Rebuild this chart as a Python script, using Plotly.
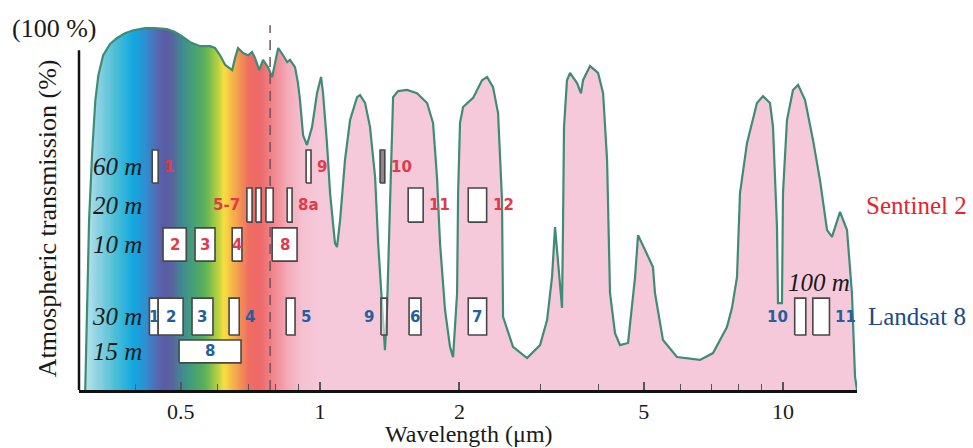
import math
import numpy as np
import plotly.graph_objects as go

# ---------------- data ----------------
# atmospheric transmission curve
wavelength = [0.311, 0.314, 0.317, 0.322, 0.327, 0.332, 0.340, 0.352, 0.364, 0.379,
              0.395, 0.419, 0.440, 0.467, 0.486, 0.503, 0.524, 0.551, 0.579, 0.593,
              0.608, 0.624, 0.646, 0.655, 0.665, 0.682, 0.699, 0.713, 0.724, 0.739,
              0.753, 0.772, 0.788, 0.800, 0.812, 0.832, 0.849, 0.861, 0.883, 0.896,
              0.905, 0.919, 0.937, 0.961, 0.985, 1.005, 1.015, 1.035, 1.051, 1.077,
              1.088, 1.105, 1.132, 1.161, 1.202, 1.220, 1.251, 1.282, 1.315, 1.335,
              1.361, 1.381, 1.395, 1.416, 1.431, 1.438, 1.474, 1.541, 1.620, 1.703,
              1.754, 1.789, 1.816, 1.862, 1.909, 1.938, 1.977, 1.987, 2.006, 2.037,
              2.141, 2.238, 2.295, 2.364, 2.424, 2.472, 2.485, 2.611, 2.800, 2.987,
              3.093, 3.170, 3.218, 3.266, 3.332, 3.348, 3.365, 3.415, 3.467, 3.590,
              3.662, 3.699, 3.830, 3.986, 4.087, 4.169, 4.230, 4.337, 4.446, 4.627,
              4.791, 4.863, 5.084, 5.238, 5.290, 5.423, 5.505, 5.903, 6.618, 7.061,
              7.568, 7.759, 7.955, 8.075, 8.360, 8.786, 9.053, 9.374, 9.515, 9.706,
              9.755, 9.950, 10.00, 10.20, 10.51, 10.78, 11.16, 11.61, 12.02, 12.45,
              12.76, 13.28, 13.75, 14.09, 14.31, 14.45]
transmission = [0, 25, 47, 66, 80, 87, 92.5, 95.6, 97.2, 98.6,
                99.4, 100, 100, 99.7, 98.9, 97.8, 96.1, 95.0, 95.0, 94.5,
                92.5, 89.8, 88.4, 91.7, 94.5, 93.1, 92.5, 93.4, 91.7, 88.4,
                91.2, 89.2, 86.5, 90.6, 94.5, 92.5, 90.6, 91.2, 89.2, 84.8,
                80.1, 70.4, 67.7, 72.7, 82.0, 86.5, 82.0, 68.2, 54.4, 40.6,
                39.5, 47.0, 63.5, 74.6, 80.9, 81.5, 79.3, 72.7, 58.8, 40.6,
                22.1, 11.0, 22.1, 54.4, 72.7, 80.9, 82.6, 82.9, 82.0, 79.3,
                73.8, 58.8, 40.6, 22.1, 11.9, 9.1, 26.8, 54.4, 73.8, 78.2,
                80.7, 85.6, 86.5, 83.7, 76.5, 52.5, 20.2, 11.9, 8.8, 12.4,
                19.3, 31.2, 45.0, 35.9, 22.7, 45.0, 72.7, 85.6, 87.6, 84.8,
                82.0, 85.6, 89.5, 87.6, 82.0, 63.5, 26.8, 15.7, 12.4, 13.0,
                31.2, 42.8, 37.8, 34.0, 26.8, 18.0, 13.8, 9.1, 8.3, 10.2,
                17.4, 22.7, 31.2, 54.4, 68.2, 79.3, 81.2, 79.3, 72.7, 45.0,
                24.0, 24.0, 54.4, 74.6, 82.9, 84.3, 80.1, 69.1, 58.0, 44.2,
                42.3, 49.2, 44.2, 26.8, 3.6, 0]

# Sentinel-2 bands (µm) and spatial resolution (m)
s2_band = ["1", "2", "3", "4", "5", "6", "7", "8", "8a", "9", "10", "11", "12"]
s2_lo = [0.434, 0.458, 0.537, 0.646, 0.695, 0.727, 0.764, 0.788, 0.849, 0.933, 1.348, 1.55, 2.09]
s2_hi = [0.447, 0.514, 0.593, 0.678, 0.713, 0.746, 0.792, 0.892, 0.870, 0.956, 1.380, 1.67, 2.29]
s2_res = [60, 10, 10, 10, 20, 20, 20, 10, 20, 60, 60, 20, 20]
s2_label_text = ["1", "2", "3", "4", "5-7", "8", "8a", "9", "10", "11", "12"]
s2_label_band = ["1", "2", "3", "4", "5", "8", "8a", "9", "10", "11", "12"]
s2_label_side = ["right", "in", "in", "in", "left", "in", "right", "right", "right", "right", "right"]

# Landsat 8 bands (µm) and spatial resolution (m)
l8_band = ["1", "2", "3", "4", "5", "6", "7", "8", "9", "10", "11"]
l8_lo = [0.428, 0.447, 0.529, 0.636, 0.845, 1.557, 2.09, 0.496, 1.354, 10.6, 11.6]
l8_hi = [0.447, 0.506, 0.587, 0.669, 0.883, 1.652, 2.29, 0.675, 1.395, 11.2, 12.6]
l8_res = [30, 30, 30, 30, 30, 30, 30, 15, 30, 100, 100]
l8_label_side = ["in", "in", "in", "right", "right", "in", "in", "in", "left", "left", "right"]

resolution_rows = ["60 m", "20 m", "10 m", "30 m", "15 m"]
x_ticks = [0.5, 1, 2, 5, 10]
x_minor_ticks = [0.4, 0.6, 0.7, 0.8, 0.9, 3, 4, 6, 7, 8, 9]
visible_limit = 0.78

# ---------------- layout / style ----------------
X_MIN, X_MAX = 0.3015, 14.45
Y_TOP = 105
row_span = {60: (57.2, 66.3), 20: (46.4, 55.8), 10: (35.6, 44.8),
            30: (15.2, 25.4), 15: (7.5, 13.8), 100: (15.2, 25.4)}
row_center = {k: (a + b) / 2 for k, (a, b) in row_span.items()}

RED = "#e23a48"
BLUE = "#22609f"
SERIF = "Liberation Serif"
SANS = "DejaVu Sans"
CURVE = "#3f8c76"

spec_wl = [0.30, 0.33, 0.36, 0.395, 0.42, 0.44, 0.46, 0.48, 0.505, 0.535, 0.565,
           0.595, 0.62, 0.645, 0.67, 0.70, 0.74, 0.79, 0.85, 0.92, 1.0, 15.0]
spec_col = ["#d8eef5", "#8fd3e3", "#4fc0d6", "#12a8e0", "#2f8fd0", "#4f70b8", "#5c5aa6",
            "#56669e", "#3f8c92", "#47a274", "#5cb258", "#a8cc44", "#f6e040", "#f6b848",
            "#f29652", "#ef6e62", "#ee6868", "#f1848c", "#f4aab8", "#f5c2d2", "#f6c9da", "#f6c9da"]
zmin, zmax = math.log10(spec_wl[0]), math.log10(spec_wl[-1])
colorscale = [[(math.log10(w) - zmin) / (zmax - zmin), c] for w, c in zip(spec_wl, spec_col)]
colorscale[0][0] = 0.0
colorscale[-1][0] = 1.0

fig = go.Figure()

# spectrum background
cols = np.logspace(zmin, zmax, 700)
fig.add_trace(go.Heatmap(x=cols, y=[0, Y_TOP], z=[np.log10(cols), np.log10(cols)],
                         zmin=zmin, zmax=zmax, colorscale=colorscale, showscale=False,
                         hoverinfo="skip"))

# white mask above the transmission curve
mask_x = [X_MIN * 0.99] + wavelength + [X_MAX * 1.05, X_MAX * 1.05, X_MIN * 0.99]
mask_y = [0] + transmission + [0, Y_TOP + 5, Y_TOP + 5]
fig.add_trace(go.Scatter(x=mask_x, y=mask_y, fill="toself", fillcolor="white",
                         line=dict(width=0), mode="lines", hoverinfo="skip"))

# curve
fig.add_trace(go.Scatter(x=wavelength, y=transmission, mode="lines",
                         line=dict(color=CURVE, width=2.2), hoverinfo="skip"))

# dashed line
fig.add_trace(go.Scatter(x=[visible_limit, visible_limit], y=[0, 100.8], mode="lines",
                         line=dict(color="#6b5858", width=1.5, dash="10px,7px"),
                         hoverinfo="skip"))


def add_box(lo, hi, res, fill="white"):
    y0, y1 = row_span[res]
    fig.add_trace(go.Scatter(x=[lo, hi, hi, lo, lo], y=[y0, y0, y1, y1, y0],
                             mode="lines", fill="toself", fillcolor=fill,
                             line=dict(color="#474747", width=1.6), hoverinfo="skip"))


for b, lo, hi, r in zip(s2_band, s2_lo, s2_hi, s2_res):
    add_box(lo, hi, r, "#8a8a8a" if b == "10" else "white")
for b, lo, hi, r in zip(l8_band, l8_lo, l8_hi, l8_res):
    add_box(lo, hi, r, "rgba(255,255,255,0.55)" if b == "9" else "white")


def band_label(text, lo, hi, res, side, color):
    if side == "in":
        x, anchor, shift = math.log10(math.sqrt(lo * hi)), "center", 0
    elif side == "right":
        x, anchor, shift = math.log10(hi), "left", 4
    else:
        x, anchor, shift = math.log10(lo), "right", -5
    fig.add_annotation(x=x, y=row_center[res], xref="x", yref="y", text=text,
                       xanchor=anchor, yanchor="middle", xshift=shift, showarrow=False,
                       font=dict(family=SANS, size=15, color=color, weight="bold"))


for t, b, side in zip(s2_label_text, s2_label_band, s2_label_side):
    i = s2_band.index(b)
    band_label(t, s2_lo[i], s2_hi[i], s2_res[i], side, RED)
for b, lo, hi, r, side in zip(l8_band, l8_lo, l8_hi, l8_res, l8_label_side):
    band_label(b, lo, hi, r, side, BLUE)

# resolution row labels
for lab in resolution_rows:
    res = int(lab.split()[0])
    fig.add_annotation(x=0.0835, xref="paper", y=row_center[res], yref="y", text=lab,
                       xanchor="right", yanchor="middle", showarrow=False,
                       font=dict(family=SERIF, size=25, color="#1a1a1a", style="italic"))
fig.add_annotation(x=0.951, xref="paper", y=29.6, yref="y", text="100 m",
                   xanchor="center", yanchor="middle", showarrow=False,
                   font=dict(family=SERIF, size=25, color="#1a1a1a", style="italic"))

# satellite names
fig.add_annotation(x=1.076, xref="paper", y=row_center[20], yref="y", text="Sentinel 2",
                   showarrow=False, xanchor="center", yanchor="middle",
                   font=dict(family=SERIF, size=25, color="#e8232b"))
fig.add_annotation(x=1.077, xref="paper", y=row_center[30], yref="y", text="Landsat 8",
                   showarrow=False, xanchor="center", yanchor="middle",
                   font=dict(family=SERIF, size=25, color="#1c4a88"))

# axis texts
fig.add_annotation(x=-0.032, xref="paper", y=100, yref="y", text="(100 %)", showarrow=False,
                   xanchor="center", yanchor="middle",
                   font=dict(family=SERIF, size=26, color="#1a1a1a"))
fig.add_annotation(x=-0.049, xref="paper", y=-2.8, yref="y", text="(0 %)", showarrow=False,
                   xanchor="center", yanchor="middle",
                   font=dict(family=SERIF, size=26, color="#1a1a1a"))
fig.add_annotation(x=-0.041, xref="paper", y=47.5, yref="y", text="Atmospheric transmission (%)",
                   textangle=-90, showarrow=False, xanchor="center", yanchor="middle",
                   font=dict(family=SERIF, size=26, color="#1a1a1a"))
fig.add_annotation(x=0.501, xref="paper", y=-58 / 380, yref="paper", text="Wavelength (μm)",
                   showarrow=False, xanchor="center", yanchor="bottom", borderpad=0,
                   font=dict(family=SERIF, size=24, color="#1a1a1a"))

# y axis line (partial)
fig.add_shape(type="line", xref="paper", x0=0, x1=0, yref="y", y0=0, y1=93.9,
              line=dict(color="#111111", width=2.5), layer="above")

fig.update_layout(
    width=973, height=448,
    margin=dict(l=79, r=116, t=10, b=58),
    paper_bgcolor="white", plot_bgcolor="white",
    showlegend=False,
    xaxis=dict(type="log", range=[math.log10(X_MIN), math.log10(X_MAX)],
               showgrid=False, zeroline=False, showline=True, linecolor="#111111", linewidth=2.5,
               ticks="inside", ticklen=8, tickwidth=1.5, tickcolor="#555555",
               tickvals=x_ticks, ticktext=[str(v) for v in x_ticks],
               tickfont=dict(family=SERIF, size=22, color="#1a1a1a"),
               minor=dict(tickvals=x_minor_ticks, ticks="inside", ticklen=6,
                          tickwidth=1.2, tickcolor="#555555", showgrid=False)),
    yaxis=dict(range=[0, Y_TOP], showgrid=False, zeroline=False, showline=False,
               showticklabels=False, ticks=""),
)

fig.write_html("out.html", config={"displayModeBar": False},
               post_script="document.body.style.margin='0';")
